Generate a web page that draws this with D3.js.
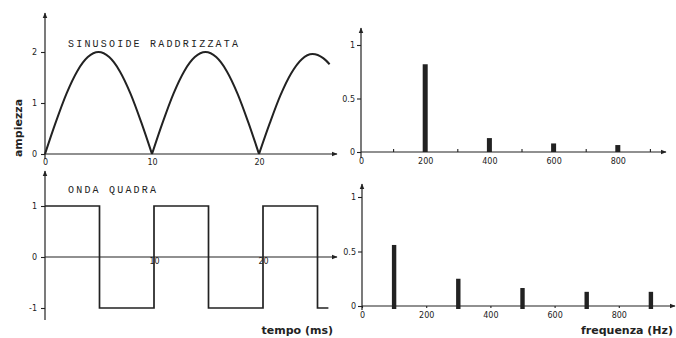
<html>
<head>
  <meta charset="UTF-8">
  <title>Sinusoide raddrizzata e onda quadra</title>
  <style>
    body { margin: 0; padding: 0; background-color: #fff; }
    svg { display: block; }
    .tick text { font-family: "DejaVu Sans", sans-serif; font-size: 8px; fill: #222; }
    .tick line { stroke: #222; }
  </style>
</head>
<body>
  <div id="chart"></div>
  <script src="https://cdnjs.cloudflare.com/ajax/libs/d3/7.8.4/d3.min.js"></script>
  <script>
    // --- data ---
    // rectified sine (ms, amplitude)
    const sinT = [0, 1, 2, 3, 4, 5, 6, 7, 8, 9, 10, 11, 12, 13, 14, 15, 16, 17, 18, 19, 20, 21, 22, 23, 24, 25, 26, 26.6];
    const sinV = [0, 0.62, 1.18, 1.62, 1.9, 2.0, 1.9, 1.62, 1.18, 0.62, 0, 0.62, 1.18, 1.62, 1.9, 2.0, 1.9, 1.62, 1.18, 0.62, 0, 0.6, 1.15, 1.58, 1.86, 1.96, 1.88, 1.76];
    // square wave (edges in ms, level after edge)
    const sqT = [0, 5, 10, 15, 20, 25, 26];
    const sqV = [1, -1, 1, -1, 1, -1, -1];
    // spectra (Hz, amplitude)
    const specSinF = [200, 400, 600, 800];
    const specSinA = [0.82, 0.13, 0.08, 0.065];
    const specSqF = [100, 300, 500, 700, 900];
    const specSqA = [0.56, 0.25, 0.165, 0.13, 0.13];
    // tick labels
    const timeTicks = [0, 10, 20];
    const freqTicks = [0, 200, 400, 600, 800];
    const freqMinor = [100, 300, 500, 700, 900];

    const width = 676, height = 338;
    const ink = "#222";

    const svg = d3.select("#chart").append("svg")
      .attr("width", width).attr("height", height);

    svg.append("defs").append("marker")
      .attr("id", "arrow")
      .attr("viewBox", "0 0 10 10")
      .attr("refX", 9).attr("refY", 5)
      .attr("markerWidth", 5).attr("markerHeight", 5)
      .attr("orient", "auto")
      .append("path")
      .attr("d", "M0,1 L10,5 L0,9 Z")
      .attr("fill", ink);

    function axisLine(x1, y1, x2, y2) {
      svg.append("line")
        .attr("x1", x1).attr("y1", y1).attr("x2", x2).attr("y2", y2)
        .attr("stroke", ink).attr("stroke-width", 1.2)
        .attr("marker-end", "url(#arrow)");
    }

    function styleAxis(g) {
      g.select(".domain").remove();
      g.selectAll(".tick line").attr("stroke", ink).attr("stroke-width", 1.1);
    }

    function label(x, y, txt, opts) {
      const t = svg.append("text").attr("x", x).attr("y", y).text(txt)
        .attr("fill", ink)
        .attr("font-family", opts.family || "DejaVu Sans, sans-serif")
        .attr("font-size", opts.size || 10)
        .attr("font-weight", opts.weight || "normal")
        .attr("text-anchor", opts.anchor || "start");
      if (opts.spacing) t.attr("letter-spacing", opts.spacing);
      if (opts.rotate) t.attr("transform", `rotate(${opts.rotate},${x},${y})`);
      return t;
    }

    const intFmt = d => String(d).replace("\u2212", "-");

    // ---------- top left: rectified sine ----------
    const x1 = d3.scaleLinear().domain([0, 27]).range([45, 45 + 27 * 10.7]);
    const y1 = d3.scaleLinear().domain([0, 2]).range([154, 52]);

    axisLine(x1(0), 159, x1(0), 13);
    axisLine(x1(0), y1(0), 337, y1(0));

    svg.append("g").attr("transform", `translate(${x1(0)},0)`)
      .call(d3.axisLeft(y1).tickValues([0, 1, 2]).tickSize(4).tickPadding(4).tickFormat(intFmt))
      .call(styleAxis);
    svg.append("g").attr("transform", `translate(0,${y1(0)})`)
      .call(d3.axisBottom(x1).tickValues(timeTicks).tickSize(0).tickPadding(5))
      .call(styleAxis);

    // split into arches so the cusps at zero stay sharp
    const sinPts = sinT.map((t, i) => [t, sinV[i]]);
    const arches = [];
    let cur = [];
    sinPts.forEach((p, i) => {
      cur.push(p);
      if (p[1] === 0 && i > 0) { arches.push(cur); cur = [p]; }
    });
    if (cur.length > 1) arches.push(cur);

    const sinLine = d3.line().x(d => x1(d[0])).y(d => y1(d[1])).curve(d3.curveMonotoneX);
    svg.selectAll("path.arch").data(arches).enter().append("path")
      .attr("class", "arch")
      .attr("d", sinLine)
      .attr("fill", "none").attr("stroke", ink).attr("stroke-width", 2);

    label(68, 47, "SINUSOIDE RADDRIZZATA", { family: "Liberation Mono, monospace", size: 10, spacing: 2.2 });
    label(22, 128, "ampiezza", { size: 11, weight: "bold", anchor: "middle", rotate: -90 });

    // ---------- bottom left: square wave ----------
    const x2 = d3.scaleLinear().domain([0, 27]).range([45, 45 + 27 * 10.9]);
    const y2 = d3.scaleLinear().domain([-1, 1]).range([308, 206]);

    axisLine(x2(0), 320, x2(0), 171);
    axisLine(x2(0), y2(0), 337, y2(0));

    svg.append("g").attr("transform", `translate(${x2(0)},0)`)
      .call(d3.axisLeft(y2).tickValues([-1, 0, 1]).tickSize(4).tickPadding(4).tickFormat(intFmt))
      .call(styleAxis);
    svg.append("g").attr("transform", `translate(0,${y2(0)})`)
      .call(d3.axisBottom(x2).tickValues(timeTicks.slice(1)).tickSize(0).tickPadding(1))
      .call(styleAxis);

    const sqLine = d3.line().x((d, i) => x2(sqT[i])).y(d => y2(d)).curve(d3.curveStepAfter);
    svg.append("path").datum(sqV)
      .attr("d", sqLine)
      .attr("fill", "none").attr("stroke", ink).attr("stroke-width", 1.7);

    label(68, 193, "ONDA QUADRA", { family: "Liberation Mono, monospace", size: 10, spacing: 2.2 });
    label(333, 334, "tempo (ms)", { size: 11, weight: "bold", anchor: "end" });

    // ---------- top right: spectrum of rectified sine ----------
    const x3 = d3.scaleLinear().domain([0, 900]).range([361, 361 + 900 * 0.321]);
    const y3 = d3.scaleLinear().domain([0, 1]).range([152, 45]);

    axisLine(x3(0), 158, x3(0), 28);
    axisLine(x3(0), y3(0), 666, y3(0));

    svg.append("g").attr("transform", `translate(${x3(0)},0)`)
      .call(d3.axisLeft(y3).tickValues([0, 0.5, 1]).tickSize(4).tickPadding(2).tickFormat(d3.format("")))
      .call(styleAxis);
    svg.append("g").attr("transform", `translate(0,${y3(0)})`)
      .call(d3.axisBottom(x3).tickValues(freqTicks).tickSize(0).tickPadding(6))
      .call(styleAxis);
    svg.append("g").attr("transform", `translate(0,${y3(0)})`)
      .call(d3.axisTop(x3).tickValues(freqMinor).tickSize(3).tickFormat(""))
      .call(styleAxis);

    svg.selectAll("rect.bar1").data(specSinF).enter().append("rect")
      .attr("class", "bar1")
      .attr("x", d => x3(d) - 2.5)
      .attr("width", 5)
      .attr("y", (d, i) => y3(specSinA[i]))
      .attr("height", (d, i) => y3(0) - y3(specSinA[i]))
      .attr("fill", ink);

    // ---------- bottom right: spectrum of square wave ----------
    const x4 = d3.scaleLinear().domain([0, 900]).range([362, 362 + 900 * 0.321]);
    const y4 = d3.scaleLinear().domain([0, 1]).range([306, 197]);

    axisLine(x4(0), 310, x4(0), 184);
    axisLine(x4(0), y4(0), 675, y4(0));

    svg.append("g").attr("transform", `translate(${x4(0)},0)`)
      .call(d3.axisLeft(y4).tickValues([0, 0.5, 1]).tickSize(4).tickPadding(2).tickFormat(d3.format("")))
      .call(styleAxis);
    svg.append("g").attr("transform", `translate(0,${y4(0)})`)
      .call(d3.axisBottom(x4).tickValues(freqTicks).tickSize(2).tickPadding(4))
      .call(styleAxis);

    svg.selectAll("rect.bar2").data(specSqF).enter().append("rect")
      .attr("class", "bar2")
      .attr("x", d => x4(d) - 2.2)
      .attr("width", 4.4)
      .attr("y", (d, i) => y4(specSqA[i]))
      .attr("height", (d, i) => y4(0) - y4(specSqA[i]) + 3)
      .attr("fill", ink);

    label(673, 334, "frequenza (Hz)", { size: 11, weight: "bold", anchor: "end" });
  </script>
</body>
</html>
